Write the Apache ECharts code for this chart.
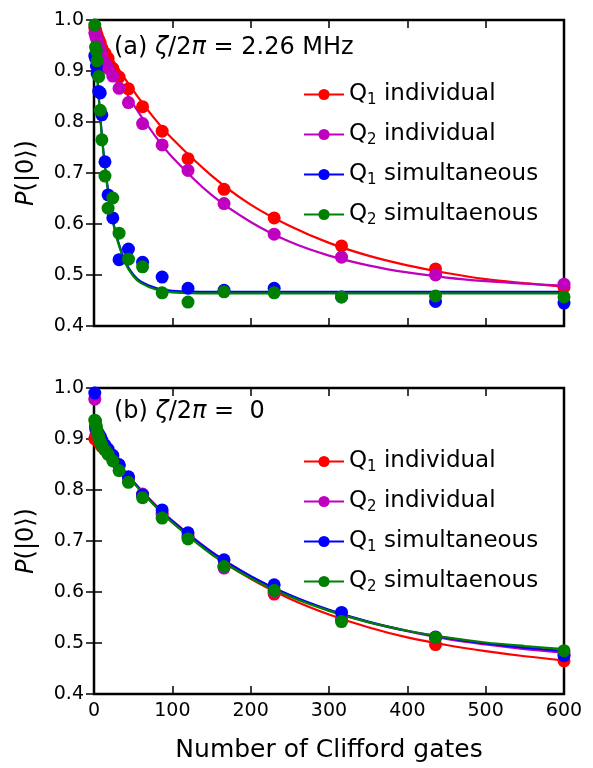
<!DOCTYPE html>
<html>
<head>
<meta charset="utf-8">
<script src="https://cdn.jsdelivr.net/npm/echarts@6/dist/echarts.min.js"></script>
<style>
html, body { margin: 0; padding: 0; background: #fff; }
#chart { width: 593px; height: 768px; }
</style>
</head>
<body>
<div id="chart"></div>
<script>
// sequence lengths (Clifford gates)
var gates = [1, 2, 3, 4, 6, 8, 10, 14, 18, 24, 32, 44, 62, 87, 120, 166, 230, 316, 436, 600];

// (a) zeta/2pi = 2.26 MHz : measured points
var aQ1ind = [0.985, 0.98, 0.975, 0.97, 0.962, 0.955, 0.945, 0.935, 0.925, 0.905, 0.888, 0.865, 0.83, 0.782, 0.728, 0.668, 0.612, 0.557, 0.512, 0.476];
var aQ2ind = [0.975, 0.97, 0.965, 0.96, 0.95, 0.94, 0.93, 0.915, 0.905, 0.89, 0.866, 0.838, 0.797, 0.755, 0.705, 0.64, 0.58, 0.535, 0.50, 0.482];
var aQ1sim = [0.93, 0.925, 0.91, 0.895, 0.86, 0.857, 0.814, 0.722, 0.657, 0.612, 0.53, 0.551, 0.525, 0.496, 0.474, 0.47, 0.474, 0.457, 0.448, 0.445];
var aQ2sim = [0.99, 0.947, 0.94, 0.92, 0.889, 0.823, 0.765, 0.694, 0.631, 0.651, 0.582, 0.531, 0.516, 0.465, 0.447, 0.467, 0.465, 0.457, 0.459, 0.457];

// (b) zeta/2pi = 0 : measured points
var bQ1ind = [0.90, 0.905, 0.90, 0.898, 0.895, 0.89, 0.885, 0.88, 0.875, 0.862, 0.847, 0.822, 0.79, 0.755, 0.71, 0.652, 0.596, 0.545, 0.497, 0.465];
var bQ2ind = [0.978, 0.92, 0.915, 0.91, 0.905, 0.90, 0.893, 0.885, 0.876, 0.865, 0.848, 0.825, 0.792, 0.752, 0.708, 0.647, 0.60, 0.548, 0.51, 0.478];
var bQ1sim = [0.99, 0.925, 0.92, 0.915, 0.91, 0.905, 0.898, 0.888, 0.88, 0.868, 0.85, 0.826, 0.79, 0.761, 0.716, 0.663, 0.614, 0.56, 0.512, 0.475];
var bQ2sim = [0.937, 0.935, 0.925, 0.915, 0.905, 0.895, 0.888, 0.878, 0.87, 0.857, 0.838, 0.815, 0.785, 0.745, 0.704, 0.65, 0.603, 0.542, 0.511, 0.485];

var fitX = [0, 25, 50, 75, 100, 150, 200, 250, 300, 350, 400, 450, 500, 550, 600];
var fitXfast = [0, 5, 10, 15, 20, 25, 30, 40, 50, 60, 80, 100, 150, 300, 450, 600];
var aFitQ1ind = [0.985, 0.919, 0.862, 0.811, 0.767, 0.695, 0.638, 0.596, 0.563, 0.538, 0.519, 0.504, 0.492, 0.484, 0.477];
var aFitQ2ind = [0.98, 0.901, 0.835, 0.779, 0.731, 0.657, 0.604, 0.565, 0.538, 0.519, 0.505, 0.495, 0.488, 0.483, 0.479];
var aFitQ1sim = [1.0, 0.873, 0.775, 0.701, 0.645, 0.601, 0.570, 0.526, 0.501, 0.487, 0.474, 0.469, 0.467, 0.467, 0.467, 0.467];
var aFitQ2sim = [1.0, 0.870, 0.772, 0.698, 0.642, 0.598, 0.567, 0.523, 0.498, 0.484, 0.471, 0.466, 0.464, 0.464, 0.464, 0.464];
var bFitQ1ind = [0.915, 0.862, 0.816, 0.774, 0.737, 0.675, 0.626, 0.587, 0.556, 0.531, 0.511, 0.496, 0.484, 0.474, 0.466];
var bFitQ2ind = [0.915, 0.863, 0.817, 0.776, 0.740, 0.679, 0.631, 0.593, 0.564, 0.541, 0.523, 0.508, 0.497, 0.488, 0.481];
var bFitQ1sim = [0.915, 0.863, 0.816, 0.775, 0.739, 0.678, 0.631, 0.594, 0.565, 0.542, 0.524, 0.510, 0.499, 0.491, 0.484];
var bFitQ2sim = [0.918, 0.863, 0.815, 0.773, 0.736, 0.674, 0.627, 0.591, 0.563, 0.541, 0.524, 0.511, 0.501, 0.494, 0.488];

var names = ['Q1 individual', 'Q2 individual', 'Q1 simultaneous', 'Q2 simultaenous'];
var colors = ['#ff0000', '#bf00bf', '#0000ff', '#008000'];

var FONT = '"DejaVu Sans"';

function pairs(xs, ys) {
    var out = [];
    for (var i = 0; i < ys.length; i++) {
        out.push([xs[i], ys[i]]);
    }
    return out;
}

function fitSeries(idx, axis, xs, ys) {
    return {
        name: names[idx],
        type: 'line',
        xAxisIndex: axis,
        yAxisIndex: axis,
        data: pairs(xs, ys),
        smooth: 0.35,
        symbol: 'circle',
        symbolSize: 13,
        showSymbol: false,
        color: colors[idx],
        lineStyle: {width: 2.2, color: colors[idx]},
        itemStyle: {color: colors[idx]},
        silent: true,
        z: 2
    };
}

function pointSeries(idx, axis, ys) {
    return {
        name: names[idx],
        type: 'scatter',
        xAxisIndex: axis,
        yAxisIndex: axis,
        data: pairs(gates, ys),
        symbol: 'circle',
        symbolSize: 13,
        clip: false,
        itemStyle: {color: colors[idx], opacity: 1},
        silent: true,
        z: 3
    };
}

function xAx(gridIndex, pos, labels, name) {
    return {
        type: 'value',
        gridIndex: gridIndex,
        position: pos,
        min: 0,
        max: 600,
        interval: 100,
        name: name || '',
        nameLocation: 'middle',
        nameGap: 44,
        nameTextStyle: {fontFamily: FONT, fontSize: 25, color: '#000'},
        axisLine: {show: false},
        axisTick: {show: true, inside: true, length: 8, lineStyle: {color: '#000', width: 1.5}},
        axisLabel: {show: labels, color: '#000', fontFamily: FONT, fontSize: 19, margin: 8},
        splitLine: {show: false}
    };
}

function yAx(gridIndex, pos, labels) {
    return {
        type: 'value',
        gridIndex: gridIndex,
        position: pos,
        min: 0.4,
        max: 1.0,
        interval: 0.1,
        name: labels ? '{i|P}(|0⟩)' : '',
        nameLocation: 'middle',
        nameGap: 55,
        nameRotate: 90,
        nameTextStyle: {
            fontFamily: FONT, fontSize: 24, color: '#000',
            rich: {i: {fontFamily: FONT, fontStyle: 'italic', fontSize: 24, color: '#000'}}
        },
        axisLine: {show: false},
        axisTick: {show: true, inside: true, length: 8, lineStyle: {color: '#000', width: 1.5}},
        axisLabel: {
            show: labels, color: '#000', fontFamily: FONT, fontSize: 19, margin: 10,
            formatter: function (v) { return v.toFixed(1); }
        },
        splitLine: {show: false}
    };
}

function legendFor(top) {
    return {
        orient: 'vertical',
        left: 298,
        top: top,
        itemWidth: 40,
        itemHeight: 14,
        itemGap: 15,
        selectedMode: false,
        data: names,
        formatter: function (name) {
            return 'Q{sub|' + name.charAt(1) + '}' + name.slice(2);
        },
        textStyle: {
            fontFamily: FONT, fontSize: 23, color: '#000',
            rich: {sub: {fontFamily: FONT, fontSize: 15, color: '#000', padding: [12, 0, 0, 0]}}
        }
    };
}

var myChart = echarts.init(document.getElementById('chart'), null, {renderer: 'canvas'});

var option = {
    backgroundColor: '#fff',
    animation: false,
    textStyle: {fontFamily: FONT},
    grid: [
        {left: 94, top: 20, width: 470, height: 306, show: true, borderColor: '#000', borderWidth: 2.5, backgroundColor: 'transparent'},
        {left: 94, top: 388, width: 470, height: 306, show: true, borderColor: '#000', borderWidth: 2.5, backgroundColor: 'transparent'}
    ],
    xAxis: [
        xAx(0, 'bottom', false),
        xAx(0, 'top', false),
        xAx(1, 'bottom', true, 'Number of Clifford gates'),
        xAx(1, 'top', false)
    ],
    yAxis: [
        yAx(0, 'left', true),
        yAx(0, 'right', false),
        yAx(1, 'left', true),
        yAx(1, 'right', false)
    ],
    legend: [legendFor(78), legendFor(445)],
    graphic: [
        {
            type: 'text', left: 114, top: 36,
            style: {
                text: '(a) {i|ζ}/2{i|π} = 2.26 MHz',
                fontFamily: FONT, fontSize: 24, fill: '#000',
                rich: {i: {fontFamily: FONT, fontStyle: 'italic', fontSize: 24, fill: '#000'}}
            }
        },
        {
            type: 'text', left: 114, top: 400,
            style: {
                text: '(b) {i|ζ}/2{i|π} =  0',
                fontFamily: FONT, fontSize: 24, fill: '#000',
                rich: {i: {fontFamily: FONT, fontStyle: 'italic', fontSize: 24, fill: '#000'}}
            }
        }
    ],
    series: [
        fitSeries(0, 0, fitX, aFitQ1ind),
        fitSeries(1, 0, fitX, aFitQ2ind),
        fitSeries(2, 0, fitXfast, aFitQ1sim),
        fitSeries(3, 0, fitXfast, aFitQ2sim),
        fitSeries(0, 2, fitX, bFitQ1ind),
        fitSeries(1, 2, fitX, bFitQ2ind),
        fitSeries(2, 2, fitX, bFitQ1sim),
        fitSeries(3, 2, fitX, bFitQ2sim),
        pointSeries(0, 0, aQ1ind),
        pointSeries(1, 0, aQ2ind),
        pointSeries(2, 0, aQ1sim),
        pointSeries(3, 0, aQ2sim),
        pointSeries(0, 2, bQ1ind),
        pointSeries(1, 2, bQ2ind),
        pointSeries(2, 2, bQ1sim),
        pointSeries(3, 2, bQ2sim)
    ]
};

myChart.setOption(option, true);
window.addEventListener('resize', function () {
    myChart.resize();
});
</script>
</body>
</html>
